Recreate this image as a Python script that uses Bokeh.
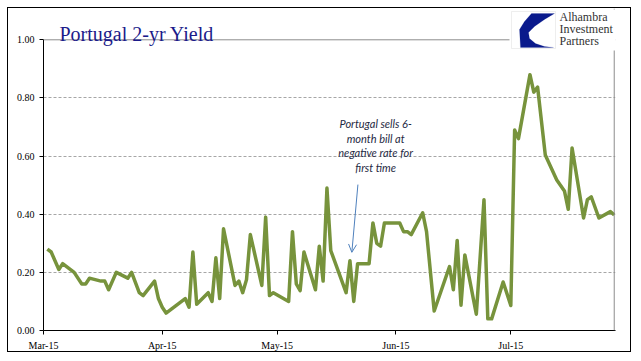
import pandas as pd
from bokeh.plotting import figure
from bokeh.models import (Range1d, FixedTicker, MonthsTicker, DatetimeTickFormatter,
                          NumeralTickFormatter, Label, Arrow, OpenHead, BoxAnnotation,
                          PolyAnnotation, ColumnDataSource, Span)
from bokeh.embed import file_html
from bokeh.resources import INLINE

# ---------------- data ----------------
dates = ["2015-03-02","2015-03-03","2015-03-05","2015-03-06","2015-03-09","2015-03-11","2015-03-12","2015-03-13","2015-03-16","2015-03-17",
         "2015-03-18","2015-03-20","2015-03-23","2015-03-24","2015-03-26","2015-03-27","2015-03-30","2015-03-31","2015-04-01","2015-04-02",
         "2015-04-07","2015-04-08","2015-04-09","2015-04-10","2015-04-13","2015-04-14","2015-04-15","2015-04-16","2015-04-17","2015-04-20",
         "2015-04-21","2015-04-22","2015-04-23","2015-04-24","2015-04-27","2015-04-28","2015-04-29","2015-04-30","2015-05-04","2015-05-05",
         "2015-05-06","2015-05-07","2015-05-08","2015-05-11","2015-05-12","2015-05-13","2015-05-14","2015-05-15","2015-05-19","2015-05-20",
         "2015-05-21","2015-05-22","2015-05-25","2015-05-26","2015-05-27","2015-05-28","2015-05-29","2015-06-02","2015-06-03","2015-06-04",
         "2015-06-05","2015-06-08","2015-06-09","2015-06-11","2015-06-15","2015-06-16","2015-06-17","2015-06-18","2015-06-19","2015-06-22",
         "2015-06-24","2015-06-25","2015-06-26","2015-06-29","2015-07-01","2015-07-02","2015-07-03","2015-07-06","2015-07-07","2015-07-08",
         "2015-07-10","2015-07-13","2015-07-15","2015-07-16","2015-07-17","2015-07-20","2015-07-21","2015-07-22","2015-07-24","2015-07-27","2015-07-28"]
yields = [0.28,0.27,0.21,0.23,0.20,0.16,0.16,0.18,0.17,0.17,
          0.14,0.20,0.18,0.20,0.13,0.12,0.17,0.11,0.08,0.06,
          0.11,0.08,0.27,0.09,0.13,0.10,0.25,0.11,0.35,0.155,
          0.17,0.13,0.175,0.33,0.155,0.39,0.12,0.13,0.10,0.34,
          0.16,0.137,0.27,0.14,0.29,0.17,0.49,0.275,0.13,0.24,
          0.10,0.23,0.23,0.37,0.30,0.29,0.37,0.37,0.34,0.34,
          0.33,0.405,0.34,0.067,0.22,0.14,0.31,0.087,0.26,0.056,
          0.45,0.04,0.04,0.167,0.086,0.69,0.66,0.88,0.82,0.837,
          0.604,0.518,0.48,0.417,0.628,0.387,0.45,0.46,0.387,0.409,0.398]
y_ticks = [0.0, 0.2, 0.4, 0.6, 0.8, 1.0]
y_axis_max = 1.0
x_start, x_edge, x_end = "2015-03-01", "2015-07-28", "2015-07-28 08:00"

title_text = "Portugal 2-yr Yield"
logo_lines = ["Alhambra", "Investment", "Partners"]
note_lines = ["Portugal sells 6-", "month bill at", "negative rate for", "first time"]
note_x = "2015-05-26 17:00"
note_y = [0.711, 0.661, 0.611, 0.559]
arrow_from = ("2015-05-22 02:00", 0.502)
arrow_to = ("2015-05-20 12:00", 0.269)

# ---------------- figure ----------------
W, H = 624, 345
ts = lambda s: pd.Timestamp(s).value / 1e6
# frame spans page y 8..330; 1.00 sits at page y 39
y_top = (330 - 8) / (330 - 39.3)

p = figure(width=W, height=H, output_backend="svg", toolbar_location=None, title=None,
           x_axis_type="datetime",
           x_range=Range1d(ts(x_start), ts(x_end)), y_range=Range1d(0, y_top),
           min_border_left=35, min_border_right=17, min_border_top=0, min_border_bottom=23,
           margin=(7, 0, 0, 7), styles={"border": "1px solid black"})
p.background_fill_color = "white"
p.border_fill_color = "white"
p.outline_line_color = None

src = ColumnDataSource(dict(x=pd.to_datetime(dates), y=yields))
p.line("x", "y", source=src, line_color="#77933C", line_width=3.5, line_join="round")

# axes
serif = "Liberation Serif"
p.yaxis.ticker = FixedTicker(ticks=y_ticks)
p.yaxis.formatter = NumeralTickFormatter(format="0.00")
p.yaxis.bounds = (0, y_axis_max)
p.xaxis.ticker = MonthsTicker(months=list(range(12)))
p.xaxis.formatter = DatetimeTickFormatter(months="%b-%y", days="%b-%y")
for ax in (p.xaxis, p.yaxis):
    ax.axis_line_color = "black"
    ax.axis_line_width = 1
    ax.major_tick_line_color = "black"
    ax.major_tick_in = 0
    ax.major_tick_out = 4
    ax.minor_tick_line_color = None
    ax.major_label_text_font = serif
    ax.major_label_text_font_size = "10px"
    ax.major_label_text_color = "black"
    ax.major_label_standoff = 5
p.xgrid.grid_line_color = None
p.ygrid.ticker = FixedTicker(ticks=y_ticks[1:-1])
p.ygrid.grid_line_color = "#A6A6A6"
p.ygrid.grid_line_dash = "3 2"
p.ygrid.grid_line_width = 1

# plot-area border: top (1.00) and right edges in grey
p.add_layout(Span(location=y_axis_max, dimension="width", line_color="#8C8C8C", line_width=1))
p.add_layout(Span(location=ts(x_edge), dimension="height", line_color="#8C8C8C", line_width=1))

# annotation
for t, yy in zip(note_lines, note_y):
    p.add_layout(Label(x=ts(note_x), y=yy, text=t, text_align="center", text_baseline="middle",
                       text_font="Lato", text_font_style="italic", text_font_size="11px",
                       text_color="#1F2A44"))
p.add_layout(Arrow(end=OpenHead(size=8, line_color="#4F81BD", line_width=1),
                   x_start=ts(arrow_from[0]), y_start=arrow_from[1],
                   x_end=ts(arrow_to[0]), y_end=arrow_to[1],
                   line_color="#4F81BD", line_width=1))

# page-pixel helpers (canvas origin at page (8,8))
cx = lambda px: px - 8
cy = lambda py: py - 8
def cbox(l, r, t, b, **kw):
    return BoxAnnotation(left=cx(l), right=cx(r), top=cy(t), bottom=cy(b),
                         left_units="canvas", right_units="canvas", top_units="canvas", bottom_units="canvas", **kw)

# title
p.add_layout(Label(x=cx(58), y=cy(32), x_units="canvas", y_units="canvas", text=title_text,
                   text_font=serif, text_font_size="20px", text_color="#1B1B8A",
                   text_baseline="alphabetic"))

# logo (white image area covering the plot-area border, then box, mark and text)
p.add_layout(cbox(508, 640, 8, 49, fill_color="white", fill_alpha=1, line_color=None))
p.add_layout(cbox(510, 554, 10, 47, fill_color="white", fill_alpha=1, line_color="#C8C8C8", line_width=1))
logo_xs = [530, 553, 543, 533, 527, 528, 534, 543, 552, 519, 518, 523]
logo_ys = [12, 12, 18, 25, 31, 37, 42, 45, 46, 46, 28, 20]
p.add_layout(PolyAnnotation(xs=[cx(v) for v in logo_xs], ys=[cy(v) for v in logo_ys],
                            xs_units="canvas", ys_units="canvas",
                            fill_color="#0A1A8C", fill_alpha=1, line_color="#0A1A8C", line_width=0.5))
for t, yy in zip(logo_lines, [15, 27, 39]):
    p.add_layout(Label(x=cx(558), y=cy(yy), x_units="canvas", y_units="canvas", text=t,
                       text_font=serif, text_font_size="12px", text_color="#333333",
                       text_baseline="middle"))

open("out.html", "w").write(file_html(p, INLINE))
